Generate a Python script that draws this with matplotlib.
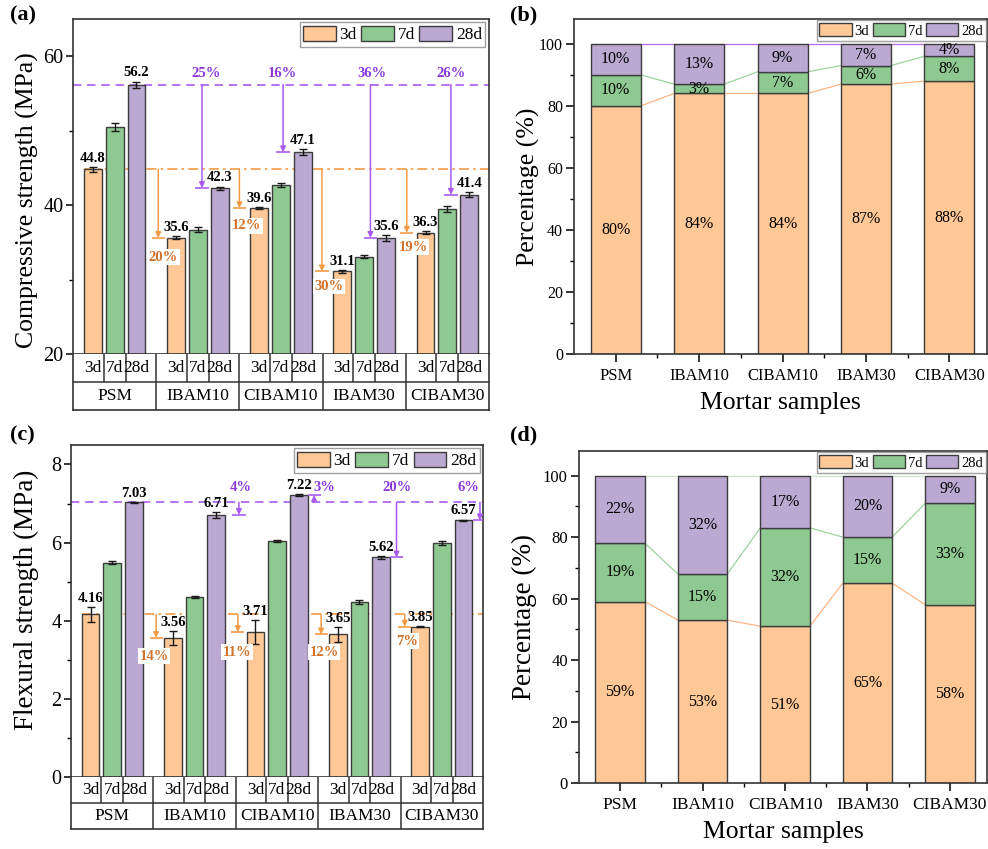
import matplotlib
matplotlib.use('Agg')
import matplotlib.pyplot as plt
import numpy as np
from matplotlib.patches import Patch
from matplotlib.ticker import MultipleLocator, FixedLocator

plt.rcParams['font.family'] = ['Liberation Serif', 'DejaVu Serif']
plt.rcParams['mathtext.fontset'] = 'stix'

# ---------------- data ----------------
samples = ['PSM', 'IBAM10', 'CIBAM10', 'IBAM30', 'CIBAM30']
ages = ['3d', '7d', '28d']

comp_3d = [44.8, 35.6, 39.6, 31.1, 36.3]
comp_7d = [50.5, 36.7, 42.7, 33.1, 39.5]
comp_28d = [56.2, 42.3, 47.1, 35.6, 41.4]
comp_err_3d = [0.3, 0.2, 0.1, 0.2, 0.2]
comp_err_7d = [0.5, 0.3, 0.3, 0.15, 0.4]
comp_err_28d = [0.4, 0.2, 0.4, 0.4, 0.3]

flex_3d = [4.16, 3.56, 3.71, 3.65, 3.85]
flex_7d = [5.49, 4.60, 6.04, 4.48, 5.99]
flex_28d = [7.03, 6.71, 7.22, 5.62, 6.57]
flex_err_3d = [0.20, 0.17, 0.31, 0.20, 0.02]
flex_err_7d = [0.04, 0.03, 0.03, 0.06, 0.05]
flex_err_28d = [0.02, 0.07, 0.03, 0.03, 0.02]

# reduction relative to PSM (IBAM10, CIBAM10, IBAM30, CIBAM30)
comp_drop_3d = [20, 12, 30, 19]
comp_drop_28d = [25, 16, 36, 26]
flex_drop_3d = [14, 11, 12, 7]
flex_drop_28d = [4, 3, 20, 6]

# share of 28d strength reached at each age (%)
comp_pct_3d = [80, 84, 84, 87, 88]
comp_pct_7d = [10, 3, 7, 6, 8]
comp_pct_28d = [10, 13, 9, 7, 4]
flex_pct_3d = [59, 53, 51, 65, 58]
flex_pct_7d = [19, 15, 32, 15, 33]
flex_pct_28d = [22, 32, 17, 20, 9]

# ---------------- style ----------------
C3 = '#FFC896'
C7 = '#8FC992'
C28 = '#BBA9D2'
EDGE = '#3C3C3C'
OR_LINE = '#F39B45'
OR_TEXT = '#D2722A'
PU_LINE = '#A95BF0'
PU_TEXT = '#8A38DD'

GW = 4.0
OFFS = [0.95, 2.0, 3.05]
BW = 0.86

fig = plt.figure(figsize=(9.88, 8.49), dpi=100)


def style_spines(ax, lw=1.2):
    for s in ax.spines.values():
        s.set_linewidth(lw)
        s.set_color('#333333')


def grouped_panel(rect_main, rect_tab, vals, errs, fmt, ylim, ymaj, ymin,
                  ylabel, ylab_fs, ylab_x, ylab_y, tick_fs,
                  drop3, drop28, or_x, or_lab, pu_x, pu_lab, pu_lab_y,
                  or_start):
    ax = fig.add_axes(rect_main)
    tab = fig.add_axes(rect_tab)
    cols = [C3, C7, C28]
    for k in range(3):
        x = np.arange(5) * GW + OFFS[k]
        ax.bar(x, vals[k], BW, color=cols[k], edgecolor=EDGE, linewidth=1.0, zorder=2)
        ax.errorbar(x, vals[k], yerr=errs[k], fmt='none', ecolor='#1a1a1a',
                    elinewidth=1.0, capsize=3, capthick=1.0, zorder=3)
        if k != 1:
            for xi, v, e in zip(x, vals[k], errs[k]):
                ax.annotate(fmt.format(v), (xi, v + e), xytext=(0, 1.5),
                            textcoords='offset points', ha='center', va='bottom',
                            fontsize=10.5, fontweight='bold', zorder=6)
    ax.set_xlim(0, 5 * GW)
    ax.set_ylim(*ylim)
    ax.set_xticks([])
    ax.yaxis.set_major_locator(MultipleLocator(ymaj))
    ax.yaxis.set_minor_locator(MultipleLocator(ymin))
    ax.tick_params(axis='y', which='major', direction='out', length=5, width=1.1,
                   labelsize=tick_fs, pad=2)
    ax.tick_params(axis='y', which='minor', direction='out', length=3, width=1.0)
    ax.set_ylabel(ylabel, fontsize=ylab_fs)
    ax.yaxis.set_label_coords(ylab_x, ylab_y)
    style_spines(ax)

    ref3 = vals[0][0]
    ref28 = vals[2][0]
    ax.axhline(ref28, color=PU_LINE, ls=(0, (5, 3.5)), lw=1.2, zorder=1)
    ax.hlines(ref3, or_start, 5 * GW, color=OR_LINE, ls=(0, (6, 2.5, 1.5, 2.5)), lw=1.2, zorder=1)

    span = ylim[1] - ylim[0]
    for g in range(4):
        # 3d reduction arrow
        xa = or_x[g]
        t = vals[0][g + 1]
        ax.annotate('', xy=(xa, t), xytext=(xa, ref3),
                    arrowprops=dict(arrowstyle='-|>', color=OR_LINE, lw=1.1,
                                    mutation_scale=8, shrinkA=0, shrinkB=0), zorder=4)
        ax.hlines(t, xa - 0.32, xa + 0.32, color=OR_LINE, lw=1.2, zorder=4)
        lx, ly = or_lab[g]
        ax.text(xa + lx, t - ly * span, f'{drop3[g]}%', color=OR_TEXT, fontsize=10.5,
                fontweight='bold', ha='center', va='center', zorder=5,
                bbox=dict(boxstyle='square,pad=0.1', fc='white', ec='none'))
        # 28d reduction arrow
        xp = pu_x[g]
        t2 = vals[2][g + 1]
        ax.annotate('', xy=(xp, t2), xytext=(xp, ref28),
                    arrowprops=dict(arrowstyle='-|>', color=PU_LINE, lw=1.1,
                                    mutation_scale=8, shrinkA=0, shrinkB=0), zorder=4)
        ax.hlines(t2, xp - 0.32, xp + 0.32, color=PU_LINE, lw=1.2, zorder=4)
        ax.text(pu_lab[g], pu_lab_y, f'{drop28[g]}%', color=PU_TEXT, fontsize=10.5,
                fontweight='bold', ha='center', va='center', zorder=5)

    handles = [Patch(facecolor=c, edgecolor=EDGE, linewidth=1.0) for c in cols]
    leg = ax.legend(handles, ages, loc='upper right', ncol=3, fontsize=12.5,
                    handlelength=1.9, handleheight=0.95, handletextpad=0.2,
                    columnspacing=0.25, borderpad=0.2, borderaxespad=0.2,
                    frameon=True, fancybox=False, edgecolor='#888888')
    leg.get_frame().set_linewidth(1.0)

    # table below
    tab.set_xlim(0, 5 * GW)
    tab.set_ylim(0, 2)
    tab.set_xticks([])
    tab.set_yticks([])
    style_spines(tab)
    tab.spines['top'].set_visible(False)
    tab.axhline(1, color='#333333', lw=1.1)
    inner = []
    for g in range(5):
        inner += [g * GW + (OFFS[0] + OFFS[1]) / 2, g * GW + (OFFS[1] + OFFS[2]) / 2]
    tab.vlines(inner, 1, 2, color='#333333', lw=1.1)
    tab.vlines([GW * g for g in range(1, 5)], 0, 2, color='#333333', lw=1.1)
    for g in range(5):
        for k in range(3):
            tab.text(g * GW + OFFS[k], 1.5, ages[k], ha='center', va='center', fontsize=12.5)
        tab.text(g * GW + GW / 2, 0.5, samples[g], ha='center', va='center', fontsize=12.5)
    return ax


def stacked_panel(rect, p3, p7, p28, ylab_x, ylab_fs, xlab_fs, top_line_color, tick_fs):
    ax = fig.add_axes(rect)
    x = np.arange(5)
    bw = 0.6
    p3 = np.array(p3); p7 = np.array(p7); p28 = np.array(p28)
    ax.bar(x, p3, bw, color=C3, edgecolor=EDGE, linewidth=1.0, zorder=2)
    ax.bar(x, p7, bw, bottom=p3, color=C7, edgecolor=EDGE, linewidth=1.0, zorder=2)
    ax.bar(x, p28, bw, bottom=p3 + p7, color=C28, edgecolor=EDGE, linewidth=1.0, zorder=2)
    c1 = p3; c2 = p3 + p7; c3 = p3 + p7 + p28
    for cum, col in [(c1, '#FFB585'), (c2, '#9CD39F'), (c3, top_line_color)]:
        for i in range(4):
            ax.plot([x[i] + bw / 2, x[i + 1] - bw / 2], [cum[i], cum[i + 1]],
                    color=col, lw=0.9, zorder=1)
    for i in range(5):
        ax.text(x[i], p3[i] / 2, f'{p3[i]}%', ha='center', va='center', fontsize=11.5, zorder=4)
        ax.text(x[i], p3[i] + p7[i] / 2, f'{p7[i]}%', ha='center', va='center', fontsize=11.5, zorder=4)
        ax.text(x[i], p3[i] + p7[i] + p28[i] / 2, f'{p28[i]}%', ha='center', va='center',
                fontsize=11.5, zorder=4)
    ax.set_xlim(-0.5, 4.45)
    ax.set_ylim(0, 108)
    ax.set_xticks(x)
    ax.set_xticklabels(samples, fontsize=tick_fs)
    ax.xaxis.set_minor_locator(FixedLocator([0.5, 1.5, 2.5, 3.5]))
    ax.yaxis.set_major_locator(MultipleLocator(20))
    ax.yaxis.set_minor_locator(MultipleLocator(10))
    ax.tick_params(which='major', direction='out', length=6, width=1.1, labelsize=tick_fs, pad=4)
    ax.tick_params(which='minor', direction='out', length=3, width=1.0)
    ax.tick_params(axis='y', labelsize=tick_fs - 0.5, pad=2)
    ax.set_ylabel('Percentage (%)', fontsize=ylab_fs)
    ax.yaxis.set_label_coords(ylab_x, 0.5)
    ax.set_xlabel('Mortar samples', fontsize=xlab_fs, labelpad=6)
    style_spines(ax)
    handles = [Patch(facecolor=c, edgecolor=EDGE, linewidth=1.0) for c in [C3, C7, C28]]
    leg = ax.legend(handles, ages, loc='upper right', ncol=3, fontsize=10.5,
                    handlelength=2.2, handleheight=1.0, handletextpad=0.2,
                    columnspacing=0.25, borderpad=0.2, borderaxespad=0.1,
                    frameon=True, fancybox=False, edgecolor='#888888')
    leg.get_frame().set_linewidth(1.0)
    return ax


# (a) compressive strength
grouped_panel(
    rect_main=[0.0739, 0.583, 0.421, 0.3946],
    rect_tab=[0.0739, 0.517, 0.421, 0.066],
    vals=[comp_3d, comp_7d, comp_28d], errs=[comp_err_3d, comp_err_7d, comp_err_28d],
    fmt='{:.1f}', ylim=(20, 65), ymaj=20, ymin=10,
    ylabel='Compressive strength (MPa)', ylab_fs=18.5, ylab_x=-0.082, ylab_y=0.46, tick_fs=14.5,
    drop3=comp_drop_3d, drop28=comp_drop_28d,
    or_x=[4.1, 8.0, 11.97, 16.05], or_lab=[(0.25, 0.058), (0.35, 0.053), (0.32, 0.045), (0.3, 0.043)],
    pu_x=[6.2, 10.1, 14.3, 18.17], pu_lab=[6.4, 10.05, 14.4, 18.17], pu_lab_y=57.7,
    or_start=0.52)

# (c) flexural strength
grouped_panel(
    rect_main=[0.0719, 0.0848, 0.417, 0.3911],
    rect_tab=[0.0719, 0.0236, 0.417, 0.0612],
    vals=[flex_3d, flex_7d, flex_28d], errs=[flex_err_3d, flex_err_7d, flex_err_28d],
    fmt='{:.2f}', ylim=(0, 8.5), ymaj=2, ymin=1,
    ylabel='Flexural strength (MPa)', ylab_fs=19.5, ylab_x=-0.078, ylab_y=0.535, tick_fs=14.5,
    drop3=flex_drop_3d, drop28=flex_drop_28d,
    or_x=[4.13, 8.1, 12.14, 16.2], or_lab=[(-0.1, 0.055), (-0.05, 0.06), (0.15, 0.053), (0.1, 0.044)],
    pu_x=[8.15, 11.8, 15.8, 19.85], pu_lab=[8.25, 12.3, 15.8, 19.3], pu_lab_y=7.4,
    or_start=0.52)

# (b) and (d) percentage stacks
stacked_panel([0.581, 0.583, 0.418, 0.3946], comp_pct_3d, comp_pct_7d, comp_pct_28d,
              ylab_x=-0.082, ylab_fs=18.5, xlab_fs=18.5, top_line_color='#B56CF2', tick_fs=12)
stacked_panel([0.586, 0.0777, 0.413, 0.3911], flex_pct_3d, flex_pct_7d, flex_pct_28d,
              ylab_x=-0.103, ylab_fs=19.5, xlab_fs=18.5, top_line_color='#CFE0CF', tick_fs=12.5)

# panel letters
for txt, xx, yy in [('(a)', 0.010, 0.982), ('(b)', 0.516, 0.982),
                    ('(c)', 0.010, 0.487), ('(d)', 0.516, 0.487)]:
    fig.text(xx, yy, txt, fontsize=16, fontweight='bold', ha='left', va='center')

fig.savefig('out.png', dpi=100)
